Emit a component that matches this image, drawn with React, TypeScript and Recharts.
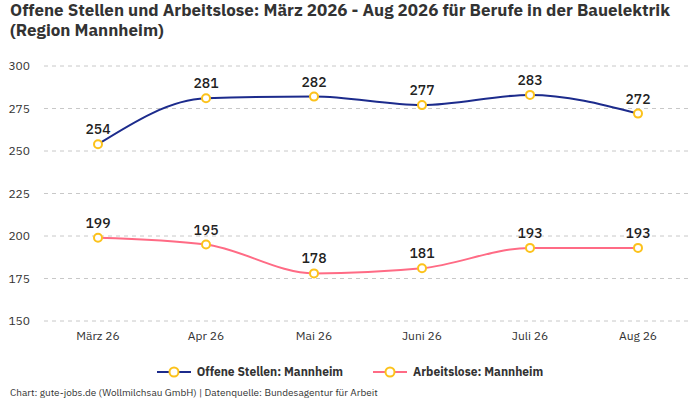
import { LineChart, Line, XAxis, YAxis, CartesianGrid, LabelList } from 'recharts';

const months = ['März 26', 'Apr 26', 'Mai 26', 'Juni 26', 'Juli 26', 'Aug 26'];
const offeneStellen = [254, 281, 282, 277, 283, 272];
const arbeitslose = [199, 195, 178, 181, 193, 193];
const yTicks = [150, 175, 200, 225, 250, 275, 300];

const NAVY = '#1c2b8c';
const PINK = '#ff6b85';
const YELLOW = '#fcc21b';
const FONT = '"IBM Plex Sans", "Noto Sans", Roboto, sans-serif';

const data = months.map((month, i) => ({
  month,
  offen: offeneStellen[i],
  arbeitslos: arbeitslose[i],
}));

const dot = { r: 4, fill: '#ffffff', stroke: YELLOW, strokeWidth: 2 };
const labelStyle = { fontSize: 14, fontWeight: 500, fill: '#222' };

function LegendItem({ color, label }: { color: string; label: string }) {
  return (
    <div style={{ display: 'flex', alignItems: 'center', gap: 6 }}>
      <svg width={34} height={14}>
        <line x1={0} y1={7} x2={34} y2={7} stroke={color} strokeWidth={2} />
        <circle cx={17} cy={7} r={4.5} fill="#fff" stroke={YELLOW} strokeWidth={2} />
      </svg>
      <span style={{ fontWeight: 700, fontSize: 12, color: '#333' }}>{label}</span>
    </div>
  );
}

export default function App() {
  return (
    <div
      style={{
        position: 'absolute',
        left: 0,
        top: 0,
        width: 700,
        height: 400,
        background: '#fff',
        fontFamily: FONT,
      }}
    >
      <div
        style={{
          position: 'absolute',
          left: 10,
          top: 0,
          fontSize: 17,
          fontWeight: 700,
          color: '#333',
          lineHeight: '20px',
          width: 690,
        }}
      >
        Offene Stellen und Arbeitslose: März 2026 - Aug 2026 für Berufe in der Bauelektrik
        <br />
        (Region Mannheim)
      </div>
      <LineChart
        width={700}
        height={400}
        data={data}
        margin={{ top: 66, right: 8, bottom: 49, left: 0 }}
        style={{ fontFamily: FONT }}
      >
        <CartesianGrid stroke="#c8c8c8" strokeDasharray="4 4" vertical={false} />
        <XAxis
          dataKey="month"
          axisLine={false}
          tickLine={false}
          padding={{ left: 54, right: 54 }}
          tick={{ fontSize: 12, fill: '#333' }}
          tickMargin={4}
          height={30}
        />
        <YAxis
          domain={[150, 300]}
          ticks={yTicks}
          axisLine={false}
          tickLine={false}
          width={44}
          tickMargin={8}
          tick={{ fontSize: 12, fill: '#333' }}
        />
        <Line
          type="monotone"
          dataKey="offen"
          stroke={NAVY}
          strokeWidth={2}
          dot={dot}
          activeDot={false}
          isAnimationActive={false}
        >
          <LabelList dataKey="offen" position="top" offset={10} style={labelStyle} />
        </Line>
        <Line
          type="monotone"
          dataKey="arbeitslos"
          stroke={PINK}
          strokeWidth={2}
          dot={dot}
          activeDot={false}
          isAnimationActive={false}
        >
          <LabelList dataKey="arbeitslos" position="top" offset={10} style={labelStyle} />
        </Line>
      </LineChart>
      <div
        style={{
          position: 'absolute',
          left: 0,
          top: 364,
          width: 700,
          display: 'flex',
          justifyContent: 'center',
          gap: 30,
        }}
      >
        <LegendItem color={NAVY} label="Offene Stellen: Mannheim" />
        <LegendItem color={PINK} label="Arbeitslose: Mannheim" />
      </div>
      <div style={{ position: 'absolute', left: 10, top: 386, fontSize: 10, color: '#333' }}>
        Chart: gute-jobs.de (Wollmilchsau GmbH) | Datenquelle: Bundesagentur für Arbeit
      </div>
    </div>
  );
}
